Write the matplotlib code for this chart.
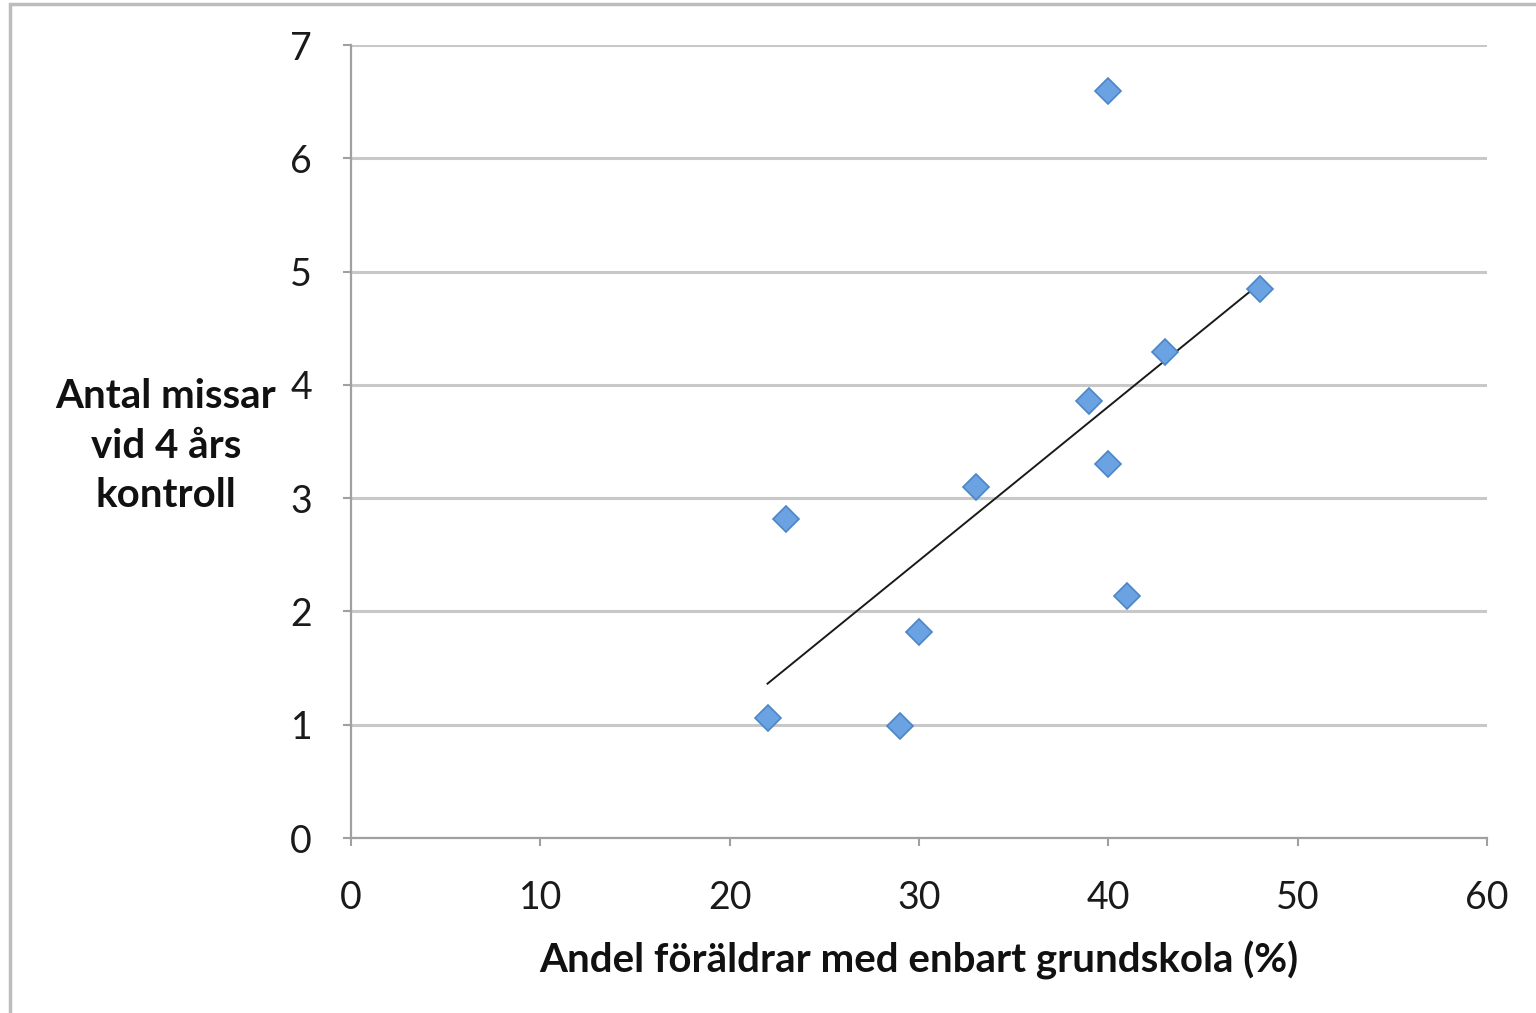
import numpy as np
import matplotlib
matplotlib.use("Agg")
import matplotlib.pyplot as plt
from matplotlib.patches import Rectangle

# data
andel = [22, 23, 29, 30, 33, 39, 40, 40, 41, 43, 48]
missar = [1.06, 2.82, 0.99, 1.82, 3.10, 3.86, 3.30, 6.59, 2.14, 4.29, 4.85]
xticks = [0, 10, 20, 30, 40, 50, 60]
yticks = [0, 1, 2, 3, 4, 5, 6, 7]

plt.rcParams['font.family'] = ['Lato', 'DejaVu Sans']

fig = plt.figure(figsize=(15.36, 10.13), dpi=100)
ax = fig.add_axes([351/1536, 1 - 838/1013, (1487-351)/1536, (838-45)/1013])

# grey frame round the figure (only top and left edges show)
fig.patches.append(Rectangle((10/1536, -0.1), 1.2, 1.1 - 4/1013,
                             transform=fig.transFigure, fill=False,
                             edgecolor='#bdbdbd', linewidth=2.5))

ax.set_xlim(0, 60)
ax.set_ylim(0, 7)
ax.set_xticks(xticks)
ax.set_yticks(yticks)
ax.grid(True, axis='y', color='#c8c8c8', linewidth=2.2)
ax.set_axisbelow(True)

for s in ['top', 'right']:
    ax.spines[s].set_visible(False)
for s in ['left', 'bottom']:
    ax.spines[s].set_color('#a0a0a0')
    ax.spines[s].set_linewidth(1.6)

ax.tick_params(axis='both', direction='out', length=6, width=1.5,
               color='#a0a0a0', labelsize=27, labelcolor='#1a1a1a')
ax.tick_params(axis='x', pad=24)
ax.tick_params(axis='y', pad=22)

# trendline (least squares)
k, m = np.polyfit(andel, missar, 1)
xs = np.array([min(andel), max(andel)])
ax.plot(xs, k * xs + m, color='#1a1a1a', linewidth=1.4, zorder=3)

ax.plot(andel, missar, linestyle='none', marker='D', markersize=13,
        markerfacecolor='#6aa2e2', markeredgecolor='#4d86c8',
        markeredgewidth=1.2, zorder=4, clip_on=False)

ax.set_xlabel('Andel föräldrar med enbart grundskola (%)', fontsize=29,
              fontweight='bold', labelpad=18, color='#111111')
fig.text(166/1536, 1 - 446/1013, 'Antal missar\nvid 4 års\nkontroll',
         ha='center', va='center', fontsize=29, fontweight='bold',
         linespacing=1.42, color='#111111')

fig.savefig('out.png', dpi=100)
